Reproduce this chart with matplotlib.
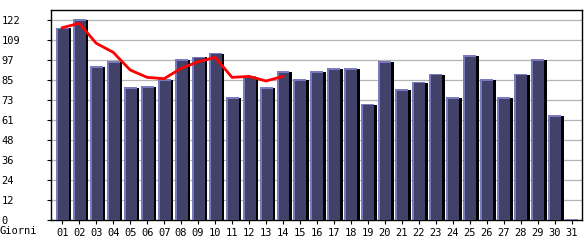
import numpy as np
import matplotlib
matplotlib.use("Agg")
import matplotlib.pyplot as plt

days = ["%02d" % d for d in range(1, 32)]
visits = [117.3, 122.4, 93.7, 96.8, 80.9, 81.5, 85.8, 98.0, 99.6, 101.7,
          74.8, 87.6, 80.9, 90.7, 85.8, 90.7, 92.5, 92.5, 70.6, 96.8,
          79.7, 84.0, 88.9, 74.8, 100.4, 85.8, 74.8, 88.9, 98.0, 63.8, 0.0]
trend = [117.3, 120.0, 107.8, 102.3, 91.5, 87.0, 86.2, 92.5, 96.5, 99.2,
         87.0, 87.6, 84.8, 87.6]
ytick_vals = [0, 12.2, 24.4, 36.6, 48.8, 61.0, 73.2, 85.4, 97.6, 109.8, 122.0]
ytick_labels = ["0", "12", "24", "36", "48", "61", "73", "85", "97", "109", "122"]

plt.rcParams['font.family'] = ['DejaVu Sans Mono']
plt.rcParams['font.size'] = 7.5

fig = plt.figure(figsize=(5.85, 2.4), dpi=100)
ax = fig.add_axes([50.7 / 585, 20 / 240, 531 / 585, 210 / 240])

x = np.arange(1, 32)
vals = np.array(visits)
px = 1 / 17.0  # one pixel in x units
py = 122.0 / 200  # one pixel in y units
w = 13 * px

# shadow, light edge, then body (empty days still get a thin light edge)
ax.bar(x + 2.7 * px, vals - 0.5 * py, width=w, color="black", zorder=2)
ax.bar(x, np.maximum(vals, 1.5 * py), width=w, color="#7a7ac0", zorder=3)
body = np.where(vals > 0, vals - 1.2 * py, 0)
ax.bar(x + 1.0 * px, body, width=w - 2.0 * px, color="#414169", zorder=4)

ax.plot(np.arange(1, len(trend) + 1), trend, color="#ff0000", lw=2.0, zorder=5,
        solid_joinstyle="round")

ax.set_xlim(0.32, 31.59)
ax.set_ylim(0, 128.1)
ax.set_xticks(x)
ax.set_xticklabels(days)
ax.set_yticks(ytick_vals)
ax.set_yticklabels(ytick_labels)
for lab in ax.get_yticklabels():
    lab.set_ha("left")
ax.tick_params(axis="y", length=3, width=0.8, pad=32.5, color="black")
ax.tick_params(axis="x", length=3, width=0.8, pad=3.0, color="black")
ax.grid(axis="y", color="#b4b4b4", lw=0.9, zorder=0)
ax.set_axisbelow(True)
for s in ax.spines.values():
    s.set_color("black")
    s.set_linewidth(1.0)

fig.text(0.0, 8.5 / 240, "Giorni", ha="left", va="center", fontsize=7.5)

fig.savefig("out.png", dpi=100)
